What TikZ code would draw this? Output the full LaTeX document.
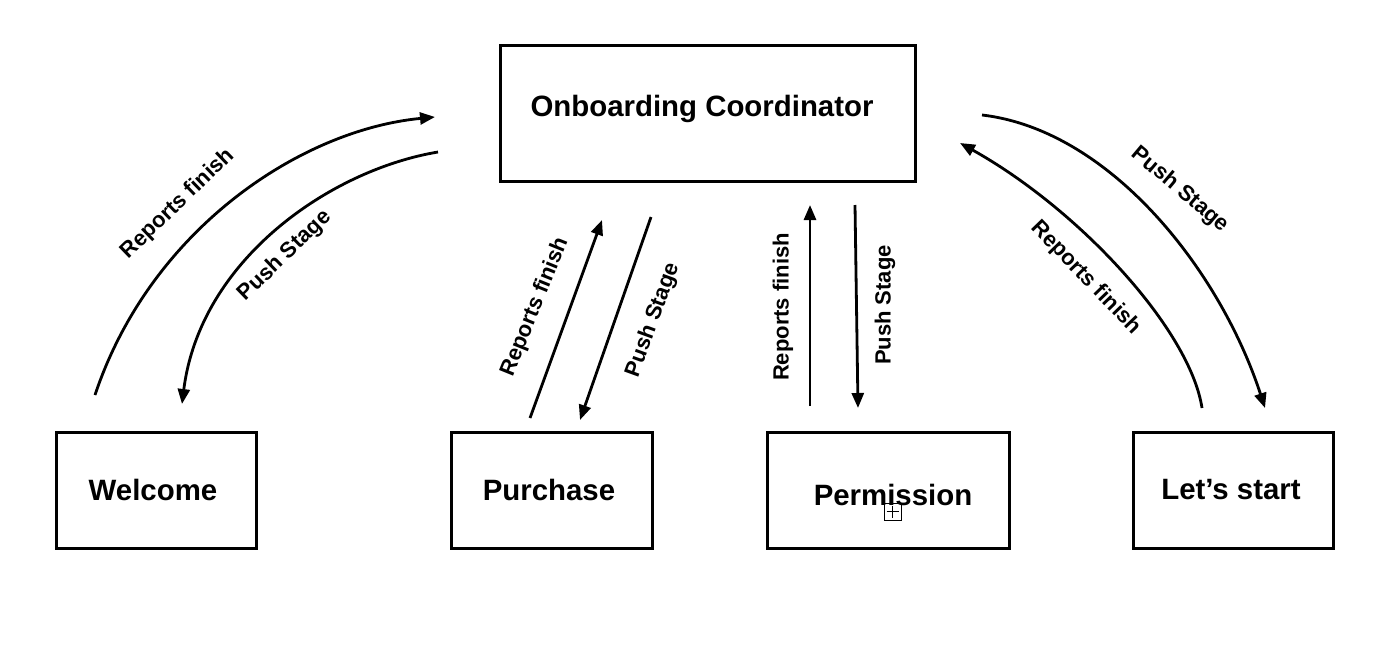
\documentclass[tikz,border=0pt]{standalone}
\usepackage{fontspec}
\setmainfont{Liberation Sans}
\usetikzlibrary{arrows.meta}
\begin{document}
\begin{tikzpicture}[x=0.5pt,y=-0.5pt,
  box/.style={draw,line width=1.5pt,minimum width=#1*0.5pt,minimum height=116*0.5pt,inner sep=0pt},
  boxtext/.style={font=\fontsize{14.7}{16}\selectfont\bfseries},
  conn/.style={line width=1.4pt,-{Triangle[length=7.5pt,width=6pt]}},
  lab/.style={font=\fontsize{11}{13}\selectfont\bfseries,inner sep=0pt}]
\useasboundingbox (0,0) rectangle (1400,659);
% boxes
\node[draw,line width=1.5pt,minimum width=207.5pt,minimum height=68pt,inner sep=0pt] (coord) at (707.5,113) {};
\node[boxtext] (coordt) at (702,109) {Onboarding Coordinator};
\node[box=200] (welcome) at (156,490) {};
\node[boxtext] at (153,490) {Welcome};
\node[box=201] (purchase) at (551.5,490) {};
\node[boxtext] at (549,490) {Purchase};
\node[box=242] (permission) at (888,490) {};
\node[boxtext] at (893,495) {Permission};
\node[box=200] (start) at (1233,490) {};
\node[boxtext] at (1231,490) {Let’s start};
% small icon
\draw[line width=0.5pt] (884,503) rectangle (901,520);
\draw[line width=0.5pt] (886.5,511.5) -- (898.5,511.5) (892.5,505.5) -- (892.5,517.5);
% end points
\coordinate (a1) at (95,395);   \coordinate (a2) at (435,117);
\coordinate (b1) at (438,152);  \coordinate (b2) at (182,404);
\coordinate (c1) at (530,418);  \coordinate (c2) at (602,220);
\coordinate (d1) at (651,217);  \coordinate (d2) at (580,420);
\coordinate (e1) at (810,406);  \coordinate (e2) at (810,205);
\coordinate (f1) at (855,205);  \coordinate (f2) at (858,408);
\coordinate (g1) at (982,115);  \coordinate (g2) at (1265,408);
\coordinate (h1) at (1202,408); \coordinate (h2) at (960,143);
% connectors
\draw[conn] (a1) .. controls (150,230) and (300,130) .. (a2);
\draw[conn] (b1) .. controls (330,170) and (200,260) .. (b2);
\draw[conn] (c1) -- (c2);
\draw[conn] (d1) -- (d2);
\draw[conn] (e1) -- (e2);
\draw[conn] (f1) -- (f2);
\draw[conn] (g1) .. controls (1110,130) and (1220,270) .. (g2);
\draw[conn] (h1) .. controls (1190,330) and (1080,210) .. (h2);
% labels
\node[lab,rotate=44] (la) at (178,204) {Reports finish};
\node[lab,rotate=44] (lb) at (285,256) {Push Stage};
\node[lab,rotate=68] (lc) at (535,307) {Reports finish};
\node[lab,rotate=70] (ld) at (653,320) {Push Stage};
\node[lab,rotate=90] (le) at (783,307) {Reports finish};
\node[lab,rotate=90] (lf) at (885,305) {Push Stage};
\node[lab,rotate=-40] (lg) at (1180,190) {Push Stage};
\node[lab,rotate=-46] (lh) at (1086,278) {Reports finish};
\end{tikzpicture}
\end{document}
